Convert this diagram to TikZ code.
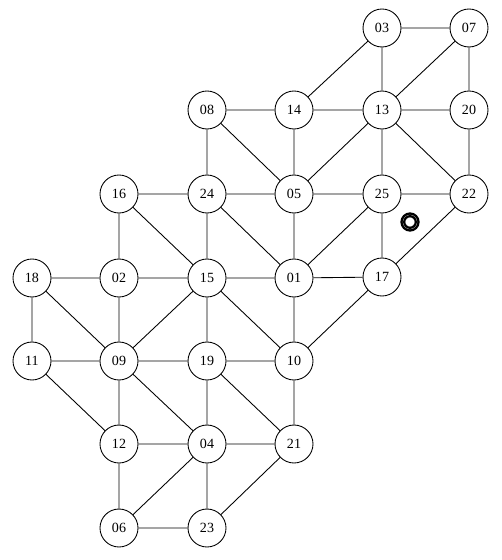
\documentclass[tikz,border=0pt]{standalone}
\usepackage{fontspec}
\setmainfont{Liberation Serif}

\begin{document}
\begin{tikzpicture}[x=0.02cm, y=-0.02cm, line width=0.5pt]
\tikzset{
  site/.style={draw, circle, fill=white, minimum size=0.76cm, inner sep=0pt,
    font=\fontsize{8}{10}\selectfont},
  link/.style={line width=0.5pt},
  ring/.style={line width=1.3pt}
}
  \useasboundingbox (0,0) rectangle (502,560);

  % sites, row by row
  \node[site] (n03) at (382,28) {03};
  \node[site] (n07) at (469,28) {07};

  \node[site] (n08) at (207,110) {08};
  \node[site] (n14) at (294,110) {14};
  \node[site] (n13) at (382,110) {13};
  \node[site] (n20) at (469,110) {20};

  \node[site] (n16) at (119,194) {16};
  \node[site] (n24) at (207,194) {24};
  \node[site] (n05) at (294,194) {05};
  \node[site] (n25) at (382,194) {25};
  \node[site] (n22) at (469,194) {22};

  \node[site] (n18) at (32,278) {18};
  \node[site] (n02) at (119,278) {02};
  \node[site] (n15) at (207,278) {15};
  \node[site] (n01) at (294,278) {01};
  \node[site] (n17) at (382,277) {17};

  \node[site] (n11) at (32,361) {11};
  \node[site] (n09) at (119,361) {09};
  \node[site] (n19) at (207,361) {19};
  \node[site] (n10) at (294,361) {10};

  \node[site] (n12) at (119,444) {12};
  \node[site] (n04) at (207,444) {04};
  \node[site] (n21) at (294,444) {21};

  \node[site] (n06) at (119,528) {06};
  \node[site] (n23) at (207,528) {23};

  % links
  \draw[link] (n03) -- (n07)  (n03) -- (n13)  (n03) -- (n14)
    (n07) -- (n13)  (n07) -- (n20);
  \draw[link] (n08) -- (n14)  (n08) -- (n24)  (n08) -- (n05)
    (n14) -- (n13)  (n14) -- (n05)
    (n13) -- (n20)  (n13) -- (n05)  (n13) -- (n25)  (n13) -- (n22)
    (n20) -- (n22);
  \draw[link] (n16) -- (n24)  (n16) -- (n02)  (n16) -- (n15)
    (n24) -- (n05)  (n24) -- (n15)  (n24) -- (n01)
    (n05) -- (n25)  (n05) -- (n01)
    (n25) -- (n22)  (n25) -- (n01)  (n25) -- (n17)
    (n22) -- (n17);
  \draw[link] (n18) -- (n02)  (n18) -- (n11)  (n18) -- (n09)
    (n02) -- (n15)  (n02) -- (n09)
    (n15) -- (n01)  (n15) -- (n09)  (n15) -- (n19)  (n15) -- (n10)
    (n01) -- (n17)  (n01) -- (n10)
    (n17) -- (n10);
  \draw[link] (n11) -- (n09)  (n11) -- (n12)
    (n09) -- (n19)  (n09) -- (n12)  (n09) -- (n04)
    (n19) -- (n10)  (n19) -- (n04)  (n19) -- (n21)
    (n10) -- (n21);
  \draw[link] (n12) -- (n04)  (n12) -- (n06)
    (n04) -- (n21)  (n04) -- (n06)  (n04) -- (n23)
    (n21) -- (n23)  (n06) -- (n23);

  % marker
  \coordinate (mark) at (410,222);
  \draw[ring] (mark) circle[radius=8.5];
  \draw[ring] (mark) circle[radius=5.8];
\end{tikzpicture}
\end{document}
